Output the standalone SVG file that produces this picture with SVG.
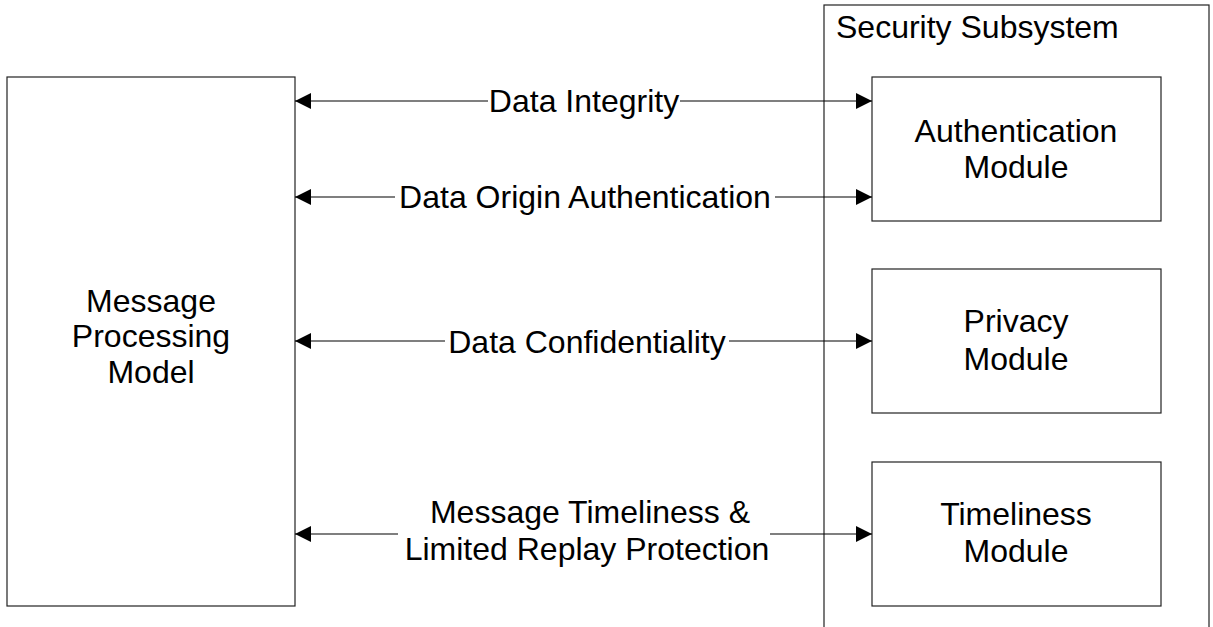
<svg xmlns="http://www.w3.org/2000/svg" width="1213" height="627" viewBox="0 0 1213 627">
  <style>
    .box { fill: #fff; stroke: #222; stroke-width: 1.2; }
    .lbl { font-family: "Liberation Sans", Arial, sans-serif; font-size: 32px; fill: #000; text-anchor: middle; }
    .conn { fill: none; stroke: #000; stroke-width: 1.2; }
  </style>
  <defs>
    <marker id="arr" viewBox="0 0 16 16" refX="16" refY="8" markerWidth="16" markerHeight="16" markerUnits="userSpaceOnUse" orient="auto-start-reverse">
      <path d="M0,0 L16,8 L0,16 z" fill="#000"/>
    </marker>
  </defs>
  <rect width="1213" height="627" fill="#fff"/>

  <g id="security-subsystem">
    <rect class="box" x="824" y="5" width="385" height="640"/>
    <text class="lbl" x="836" y="38" style="text-anchor:start">Security Subsystem</text>
  </g>

  <g id="message-processing-model">
    <rect class="box" x="7" y="77" width="288" height="529"/>
    <text class="lbl" x="151" y="312">Message</text>
    <text class="lbl" x="151" y="347">Processing</text>
    <text class="lbl" x="151" y="383">Model</text>
  </g>

  <g id="authentication-module">
    <rect class="box" x="872" y="77" width="289" height="144"/>
    <text class="lbl" x="1016" y="142">Authentication</text>
    <text class="lbl" x="1016" y="178">Module</text>
  </g>

  <g id="privacy-module">
    <rect class="box" x="872" y="269" width="289" height="144"/>
    <text class="lbl" x="1016" y="332">Privacy</text>
    <text class="lbl" x="1016" y="370">Module</text>
  </g>

  <g id="timeliness-module">
    <rect class="box" x="872" y="462" width="289" height="144"/>
    <text class="lbl" x="1016" y="525">Timeliness</text>
    <text class="lbl" x="1016" y="562">Module</text>
  </g>

  <g id="connectors">
    <path class="conn" d="M295,101 H488" marker-start="url(#arr)"/>
    <path class="conn" d="M680,101 H872" marker-end="url(#arr)"/>
    <text class="lbl" x="584" y="112">Data Integrity</text>

    <path class="conn" d="M295,197 H395" marker-start="url(#arr)"/>
    <path class="conn" d="M775,197 H872" marker-end="url(#arr)"/>
    <text class="lbl" x="585" y="208">Data Origin Authentication</text>

    <path class="conn" d="M295,341 H445" marker-start="url(#arr)"/>
    <path class="conn" d="M729,341 H872" marker-end="url(#arr)"/>
    <text class="lbl" x="587" y="353">Data Confidentiality</text>

    <path class="conn" d="M295,534 H398" marker-start="url(#arr)"/>
    <path class="conn" d="M770,534 H872" marker-end="url(#arr)"/>
    <text class="lbl" x="590" y="523">Message Timeliness &amp;</text>
    <text class="lbl" x="587" y="560">Limited Replay Protection</text>
  </g>
</svg>
